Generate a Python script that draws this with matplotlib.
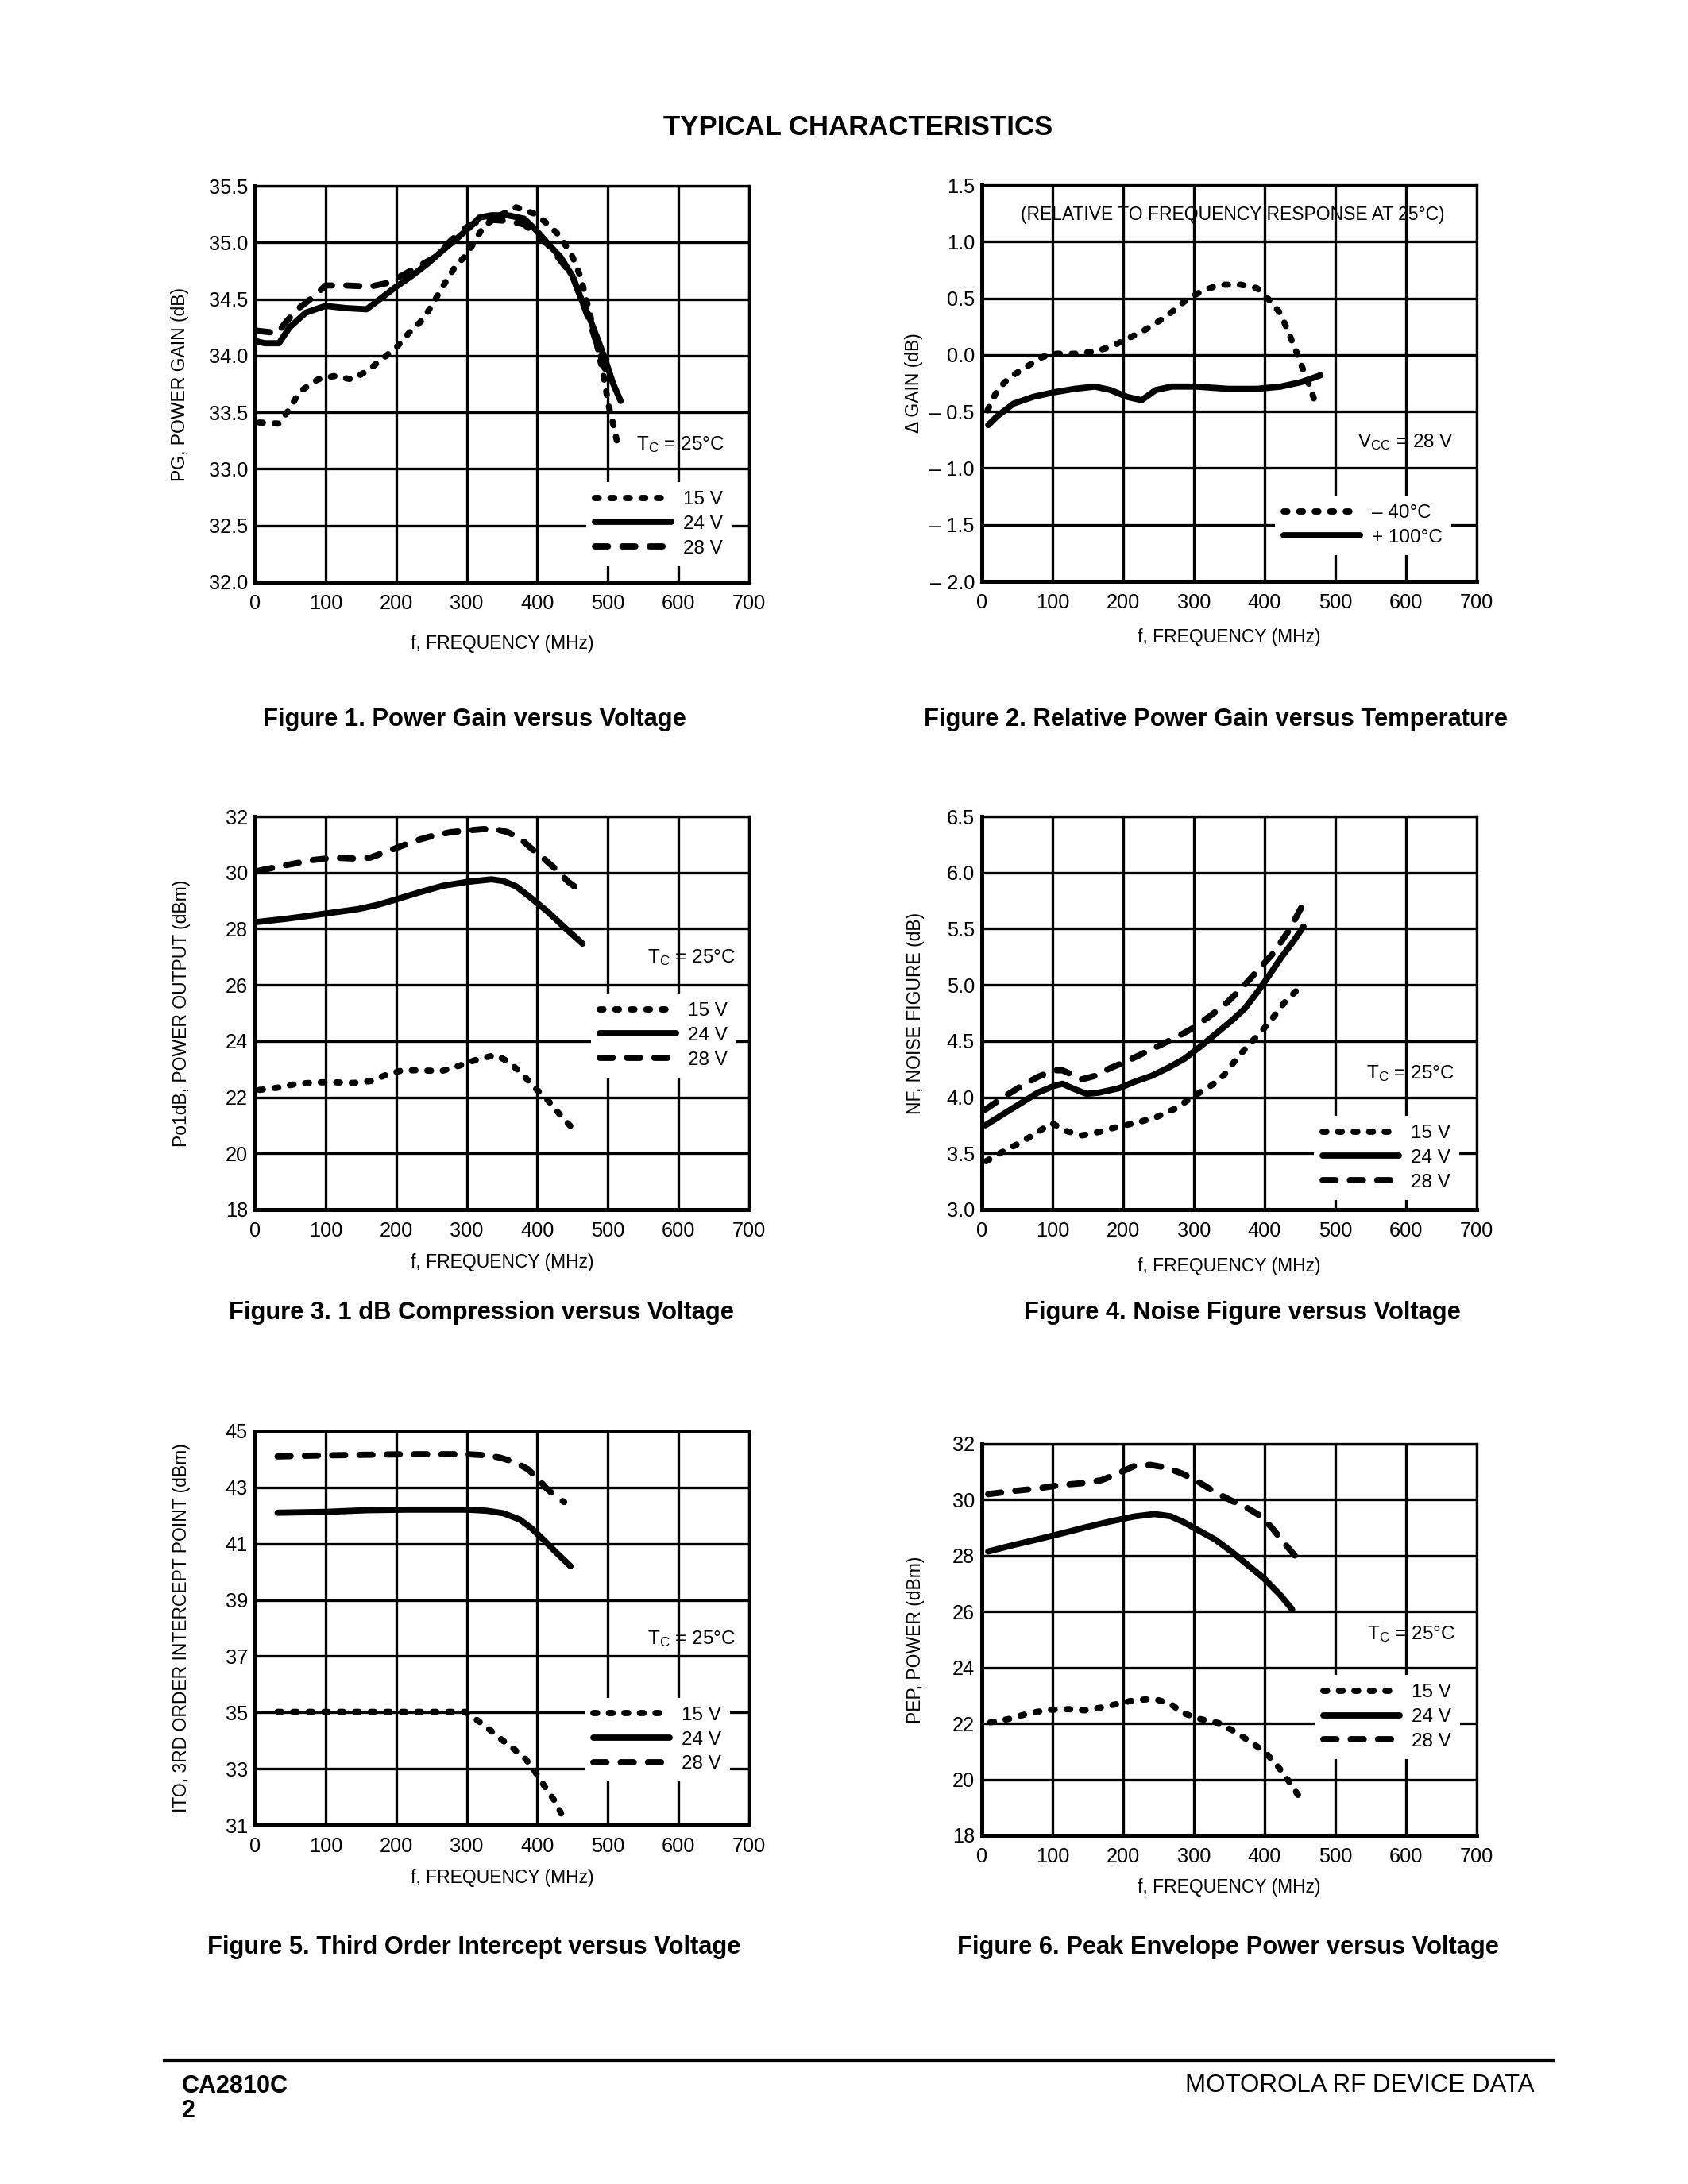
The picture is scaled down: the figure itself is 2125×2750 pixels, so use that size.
import matplotlib
matplotlib.use('Agg')
import matplotlib.pyplot as plt
from matplotlib.lines import Line2D
from matplotlib import font_manager as fm

# ---------------- data ----------------
freq_ticks = [0, 100, 200, 300, 400, 500, 600, 700]
series_labels = ['15 V', '24 V', '28 V']
temp_labels = ['\u2013 40\u00b0C', '+ 100\u00b0C']

# Figure 1: power gain (dB)
fig1_f15 = [6, 34, 49, 63, 89, 112, 138, 160, 186, 200, 218, 238, 252, 266, 284, 301, 312, 324, 341, 370, 398, 415, 433, 450, 461, 473, 484, 493, 501, 507, 513]
fig1_g15 = [33.41, 33.40, 33.53, 33.68, 33.79, 33.82, 33.79, 33.87, 34.00, 34.07, 34.20, 34.32, 34.46, 34.61, 34.79, 34.90, 35.02, 35.14, 35.22, 35.31, 35.25, 35.16, 35.05, 34.87, 34.70, 34.41, 34.11, 33.85, 33.56, 33.41, 33.24]
fig1_f24 = [0, 14, 34, 49, 72, 100, 129, 158, 175, 198, 221, 244, 266, 289, 307, 318, 335, 358, 381, 398, 415, 433, 450, 461, 473, 484, 496, 507, 518]
fig1_g24 = [34.13, 34.11, 34.11, 34.25, 34.38, 34.44, 34.42, 34.41, 34.49, 34.60, 34.70, 34.81, 34.93, 35.05, 35.15, 35.22, 35.24, 35.24, 35.21, 35.11, 34.99, 34.87, 34.70, 34.52, 34.35, 34.17, 33.97, 33.76, 33.60]
fig1_f28 = [3, 32, 43, 60, 83, 100, 129, 163, 186, 209, 232, 255, 278, 301, 318, 335, 358, 381, 398, 415, 433, 450, 461, 473, 484, 496]
fig1_g28 = [34.22, 34.20, 34.29, 34.41, 34.52, 34.62, 34.62, 34.61, 34.64, 34.71, 34.79, 34.87, 35.02, 35.14, 35.19, 35.20, 35.19, 35.16, 35.08, 34.98, 34.84, 34.70, 34.52, 34.32, 34.11, 33.88]
fig1_yticks = [32.0, 32.5, 33.0, 33.5, 34.0, 34.5, 35.0, 35.5]
fig1_ylabels = ['32.0', '32.5', '33.0', '33.5', '34.0', '34.5', '35.0', '35.5']

# Figure 2: relative gain (dB)
fig2_fm40 = [8, 22, 39, 62, 85, 102, 131, 160, 182, 205, 228, 251, 269, 292, 314, 337, 366, 389, 409, 423, 435, 446, 455, 464, 472]
fig2_gm40 = [-0.49, -0.31, -0.20, -0.11, -0.02, 0.01, 0.01, 0.03, 0.07, 0.14, 0.21, 0.30, 0.38, 0.50, 0.57, 0.62, 0.62, 0.59, 0.47, 0.36, 0.18, 0.01, -0.14, -0.28, -0.43]
fig2_fp100 = [9, 22, 45, 73, 102, 131, 160, 182, 205, 226, 246, 269, 303, 349, 389, 423, 452, 479]
fig2_gp100 = [-0.62, -0.54, -0.43, -0.37, -0.33, -0.30, -0.28, -0.31, -0.37, -0.40, -0.31, -0.28, -0.28, -0.30, -0.30, -0.28, -0.24, -0.18]
fig2_yticks = [-2.0, -1.5, -1.0, -0.5, 0.0, 0.5, 1.0, 1.5]
fig2_ylabels = ['\u2013 2.0', '\u2013 1.5', '\u2013 1.0', '\u2013 0.5', '0.0', '0.5', '1.0', '1.5']

# Figure 3: P1dB (dBm)
fig3_f15 = [6, 32, 60, 89, 112, 140, 166, 186, 209, 232, 264, 289, 318, 341, 358, 378, 395, 415, 433, 453]
fig3_p15 = [22.26, 22.34, 22.48, 22.53, 22.53, 22.51, 22.58, 22.80, 22.96, 22.96, 22.93, 23.12, 23.37, 23.50, 23.28, 22.85, 22.37, 21.89, 21.35, 20.81]
fig3_f24 = [3, 43, 100, 146, 175, 198, 232, 266, 301, 335, 352, 370, 392, 415, 438, 464]
fig3_p24 = [28.24, 28.35, 28.54, 28.70, 28.86, 29.03, 29.29, 29.53, 29.67, 29.76, 29.70, 29.51, 29.08, 28.60, 28.06, 27.47]
fig3_f28 = [6, 43, 83, 112, 140, 163, 186, 209, 232, 255, 278, 301, 324, 341, 358, 375, 392, 410, 427, 444, 464]
fig3_p28 = [30.07, 30.26, 30.45, 30.53, 30.50, 30.53, 30.74, 30.96, 31.17, 31.33, 31.44, 31.50, 31.55, 31.55, 31.44, 31.23, 30.85, 30.48, 30.10, 29.67, 29.29]
fig3_yticks = [18, 20, 22, 24, 26, 28, 30, 32]
fig3_ylabels = ['18', '20', '22', '24', '26', '28', '30', '32']

# Figure 4: noise figure (dB)
fig4_f15 = [6, 28, 56, 79, 99, 119, 142, 165, 188, 217, 246, 274, 300, 326, 343, 360, 378, 395, 412, 429, 455]
fig4_n15 = [3.43, 3.51, 3.60, 3.69, 3.77, 3.70, 3.66, 3.69, 3.73, 3.77, 3.82, 3.90, 4.01, 4.11, 4.20, 4.34, 4.47, 4.58, 4.71, 4.85, 5.01]
fig4_f24 = [5, 28, 56, 79, 102, 114, 128, 148, 165, 194, 217, 240, 263, 286, 309, 332, 355, 372, 389, 406, 423, 441, 455]
fig4_n24 = [3.75, 3.84, 3.95, 4.04, 4.10, 4.12, 4.08, 4.03, 4.04, 4.08, 4.14, 4.19, 4.26, 4.34, 4.45, 4.57, 4.69, 4.79, 4.93, 5.08, 5.24, 5.39, 5.52]
fig4_f28 = [5, 28, 56, 79, 102, 114, 128, 142, 160, 182, 205, 228, 251, 274, 297, 320, 343, 366, 389, 412, 435, 452]
fig4_n28 = [3.89, 3.99, 4.10, 4.18, 4.24, 4.24, 4.20, 4.16, 4.19, 4.26, 4.32, 4.39, 4.46, 4.53, 4.61, 4.71, 4.82, 4.96, 5.12, 5.28, 5.49, 5.69]
fig4_yticks = [3.0, 3.5, 4.0, 4.5, 5.0, 5.5, 6.0, 6.5]
fig4_ylabels = ['3.0', '3.5', '4.0', '4.5', '5.0', '5.5', '6.0', '6.5']

# Figure 5: third order intercept (dBm)
fig5_f15 = [32, 129, 244, 298, 312, 329, 347, 364, 384, 398, 412, 427, 438]
fig5_i15 = [35.02, 35.02, 35.02, 35.02, 34.78, 34.46, 34.08, 33.76, 33.33, 32.85, 32.31, 31.77, 31.18]
fig5_f24 = [32, 100, 158, 215, 272, 301, 329, 352, 375, 392, 410, 427, 447]
fig5_i24 = [42.10, 42.13, 42.19, 42.21, 42.21, 42.21, 42.17, 42.08, 41.86, 41.54, 41.11, 40.68, 40.20]
fig5_f28 = [32, 100, 158, 215, 272, 301, 329, 347, 370, 387, 401, 412, 424, 438]
fig5_i28 = [44.10, 44.14, 44.16, 44.18, 44.18, 44.18, 44.14, 44.06, 43.88, 43.64, 43.31, 42.99, 42.72, 42.48]
fig5_yticks = [31, 33, 35, 37, 39, 41, 43, 45]
fig5_ylabels = ['31', '33', '35', '37', '39', '41', '43', '45']

# Figure 6: peak envelope power (dBm)
fig6_f15 = [12, 40, 66, 95, 123, 146, 169, 192, 215, 244, 267, 284, 307, 336, 359, 382, 402, 419, 436, 450]
fig6_p15 = [22.04, 22.17, 22.36, 22.49, 22.51, 22.47, 22.57, 22.70, 22.83, 22.88, 22.70, 22.38, 22.17, 22.01, 21.69, 21.31, 20.94, 20.46, 19.87, 19.34]
fig6_f24 = [9, 43, 78, 112, 146, 181, 215, 244, 267, 284, 307, 330, 353, 376, 399, 422, 439]
fig6_p24 = [28.15, 28.37, 28.58, 28.79, 29.01, 29.22, 29.40, 29.49, 29.41, 29.22, 28.90, 28.58, 28.15, 27.67, 27.19, 26.60, 26.08]
fig6_f28 = [9, 43, 78, 112, 141, 169, 192, 215, 238, 261, 284, 307, 330, 353, 376, 393, 410, 427, 445, 453]
fig6_p28 = [30.20, 30.31, 30.40, 30.53, 30.59, 30.70, 30.93, 31.20, 31.25, 31.15, 30.93, 30.63, 30.27, 29.97, 29.70, 29.44, 29.01, 28.47, 27.94, 27.62]
fig6_yticks = [18, 20, 22, 24, 26, 28, 30, 32]
fig6_ylabels = ['18', '20', '22', '24', '26', '28', '30', '32']

# ---------------- styling ----------------
W, H, DPI = 2125, 2750, 250


def has_font(name):
    try:
        fm.findfont(fm.FontProperties(family=name), fallback_to_default=False)
        return True
    except Exception:
        return False


if has_font('Liberation Sans Narrow'):
    NARROW = ['Liberation Sans Narrow', 'DejaVu Sans']
    TICK_FS, LAB_FS, LEG_FS, REL_FS = 8.2, 8.0, 8.0, 8.0
else:
    NARROW = ['Liberation Sans', 'DejaVu Sans']
    TICK_FS, LAB_FS, LEG_FS, REL_FS = 7.3, 6.6, 7.0, 6.6
BOLD = ['Liberation Sans', 'DejaVu Sans']

plt.rcParams['font.family'] = NARROW
plt.rcParams['mathtext.default'] = 'regular'

LW = 2.25
GRID_LW = 0.95
DOT = (0, (0.6, 1.9))
DASH = (0, (2.1, 2.3))
STYLES = [DOT, '-', DASH]

fig = plt.figure(figsize=(W / DPI, H / DPI), dpi=DPI)
fig.patch.set_facecolor('white')


def line_kw(ls):
    return dict(color='black', lw=LW, linestyle=ls, dash_capstyle='round',
                solid_capstyle='round', solid_joinstyle='round', dash_joinstyle='round')


panels = [
    dict(px=(321, 234, 943, 733), ylim=(32.0, 35.5), yticks=fig1_yticks, ylabels=fig1_ylabels,
         ylabel='PG, POWER GAIN (dB)', ylab_dx=95, xlab_dy=77,
         series=[(fig1_f15, fig1_g15), (fig1_f24, fig1_g24), (fig1_f28, fig1_g28)],
         styles=STYLES, labels=series_labels,
         note=(540, 33.22, r'$T_C$ = 25°C'), leg=(0.671, 0.252),
         caption='Figure 1. Power Gain versus Voltage', cap=(597, 906)),
    dict(px=(1236, 233, 1859, 732), ylim=(-2.0, 1.5), yticks=fig2_yticks, ylabels=fig2_ylabels,
         ylabel='\u0394 GAIN (dB)', ylab_dx=86, xlab_dy=70,
         series=[(fig2_fm40, fig2_gm40), (fig2_fp100, fig2_gp100)],
         styles=[DOT, '-'], labels=temp_labels,
         note=(532, -0.77, r'$V_{CC}$ = 28 V'), leg=(0.593, 0.216),
         extra=(355, 1.24, '(RELATIVE TO FREQUENCY RESPONSE AT 25°C)'),
         caption='Figure 2. Relative Power Gain versus Temperature', cap=(1530, 906)),
    dict(px=(321, 1028, 943, 1523), ylim=(18, 32), yticks=fig3_yticks, ylabels=fig3_ylabels,
         ylabel='Po1dB, POWER OUTPUT (dBm)', ylab_dx=92, xlab_dy=67,
         series=[(fig3_f15, fig3_p15), (fig3_f24, fig3_p24), (fig3_f28, fig3_p28)],
         styles=STYLES, labels=series_labels,
         note=(556, 26.99, r'$T_C$ = 25°C'), leg=(0.680, 0.549),
         caption='Figure 3. 1 dB Compression versus Voltage', cap=(606, 1653)),
    dict(px=(1236, 1028, 1859, 1523), ylim=(3.0, 6.5), yticks=fig4_yticks, ylabels=fig4_ylabels,
         ylabel='NF, NOISE FIGURE (dB)', ylab_dx=84, xlab_dy=72,
         series=[(fig4_f15, fig4_n15), (fig4_f24, fig4_n24), (fig4_f28, fig4_n28)],
         styles=STYLES, labels=series_labels,
         note=(544, 4.21, r'$T_C$ = 25°C'), leg=(0.671, 0.238),
         caption='Figure 4. Noise Figure versus Voltage', cap=(1564, 1653)),
    dict(px=(321, 1802, 943, 2298), ylim=(31, 45), yticks=fig5_yticks, ylabels=fig5_ylabels,
         ylabel='ITO, 3RD ORDER INTERCEPT POINT (dBm)', ylab_dx=92, xlab_dy=67,
         series=[(fig5_f15, fig5_i15), (fig5_f24, fig5_i24), (fig5_f28, fig5_i28)],
         styles=STYLES, labels=series_labels,
         note=(556, 37.63, r'$T_C$ = 25°C'), leg=(0.667, 0.323),
         caption='Figure 5. Third Order Intercept versus Voltage', cap=(597, 2452)),
    dict(px=(1236, 1818, 1859, 2311), ylim=(18, 32), yticks=fig6_yticks, ylabels=fig6_ylabels,
         ylabel='PEP, POWER (dBm)', ylab_dx=84, xlab_dy=65,
         series=[(fig6_f15, fig6_p15), (fig6_f24, fig6_p24), (fig6_f28, fig6_p28)],
         styles=STYLES, labels=series_labels,
         note=(545, 25.21, r'$T_C$ = 25°C'), leg=(0.673, 0.409),
         caption='Figure 6. Peak Envelope Power versus Voltage', cap=(1546, 2452)),
]

for p in panels:
    l, t, r, b = p['px']
    ax = fig.add_axes([l / W, 1 - b / H, (r - l) / W, (b - t) / H])
    ax.set_xlim(0, 700)
    ax.set_ylim(*p['ylim'])
    ax.set_xticks(freq_ticks)
    ax.set_xticklabels([str(v) for v in freq_ticks])
    ax.set_yticks(p['yticks'])
    ax.set_yticklabels(p['ylabels'])
    ax.grid(True, color='black', lw=GRID_LW)
    ax.tick_params(axis='both', length=0, labelsize=TICK_FS)
    ax.tick_params(axis='x', pad=4.2)
    ax.tick_params(axis='y', pad=2.6)
    for side in ('left', 'bottom'):
        ax.spines[side].set_linewidth(1.45)
    for side in ('top', 'right'):
        ax.spines[side].set_linewidth(0.95)
    ax.set_xlabel('f, FREQUENCY (MHz)', fontsize=LAB_FS, va='center')
    ax.xaxis.set_label_coords(0.5, -p['xlab_dy'] / (b - t))
    ax.set_ylabel(p['ylabel'], fontsize=LAB_FS, va='center')
    ax.yaxis.set_label_coords(-p['ylab_dx'] / (r - l), 0.5)

    handles = []
    for (xs, ys), ls in zip(p['series'], p['styles']):
        ax.plot(xs, ys, **line_kw(ls))
        handles.append(Line2D([], [], **line_kw(ls)))

    nx, ny, ntext = p['note']
    ax.text(nx, ny, ntext, fontsize=LEG_FS, va='center', ha='left')
    if 'extra' in p:
        ex, ey, etext = p['extra']
        ax.text(ex, ey, etext, fontsize=REL_FS, va='center', ha='center')

    lx, ly = p['leg']
    leg = ax.legend(handles, p['labels'], loc='upper left', bbox_to_anchor=(lx, ly),
                    bbox_transform=ax.transAxes, frameon=True, fancybox=False,
                    edgecolor='none', facecolor='white', framealpha=1.0,
                    borderaxespad=0.0, borderpad=0.45, handlelength=3.95,
                    handletextpad=0.62, labelspacing=0.36, fontsize=LEG_FS)
    leg.set_zorder(5)

    cx, cy = p['cap']
    fig.text(cx / W, 1 - cy / H, p['caption'], ha='center', va='center',
             fontsize=8.9, fontweight='bold', family=BOLD)

# page title and footer
fig.text(1080 / W, 1 - 160 / H, 'TYPICAL CHARACTERISTICS', ha='center', va='center',
         fontsize=10.0, fontweight='bold', family=BOLD)
fig.add_artist(Line2D([207 / W, 1954 / W], [1 - 2594 / H, 1 - 2594 / H],
                      transform=fig.transFigure, color='black', lw=1.5))
fig.text(229 / W, 1 - 2627 / H, 'CA2810C', ha='left', va='center',
         fontsize=8.8, fontweight='bold', family=BOLD)
fig.text(229 / W, 1 - 2658 / H, '2', ha='left', va='center',
         fontsize=8.8, fontweight='bold', family=BOLD)
fig.text(1932 / W, 1 - 2626 / H, 'MOTOROLA RF DEVICE DATA', ha='right', va='center',
         fontsize=9.0, family=BOLD)

fig.savefig('out.png', dpi=DPI, facecolor='white')
